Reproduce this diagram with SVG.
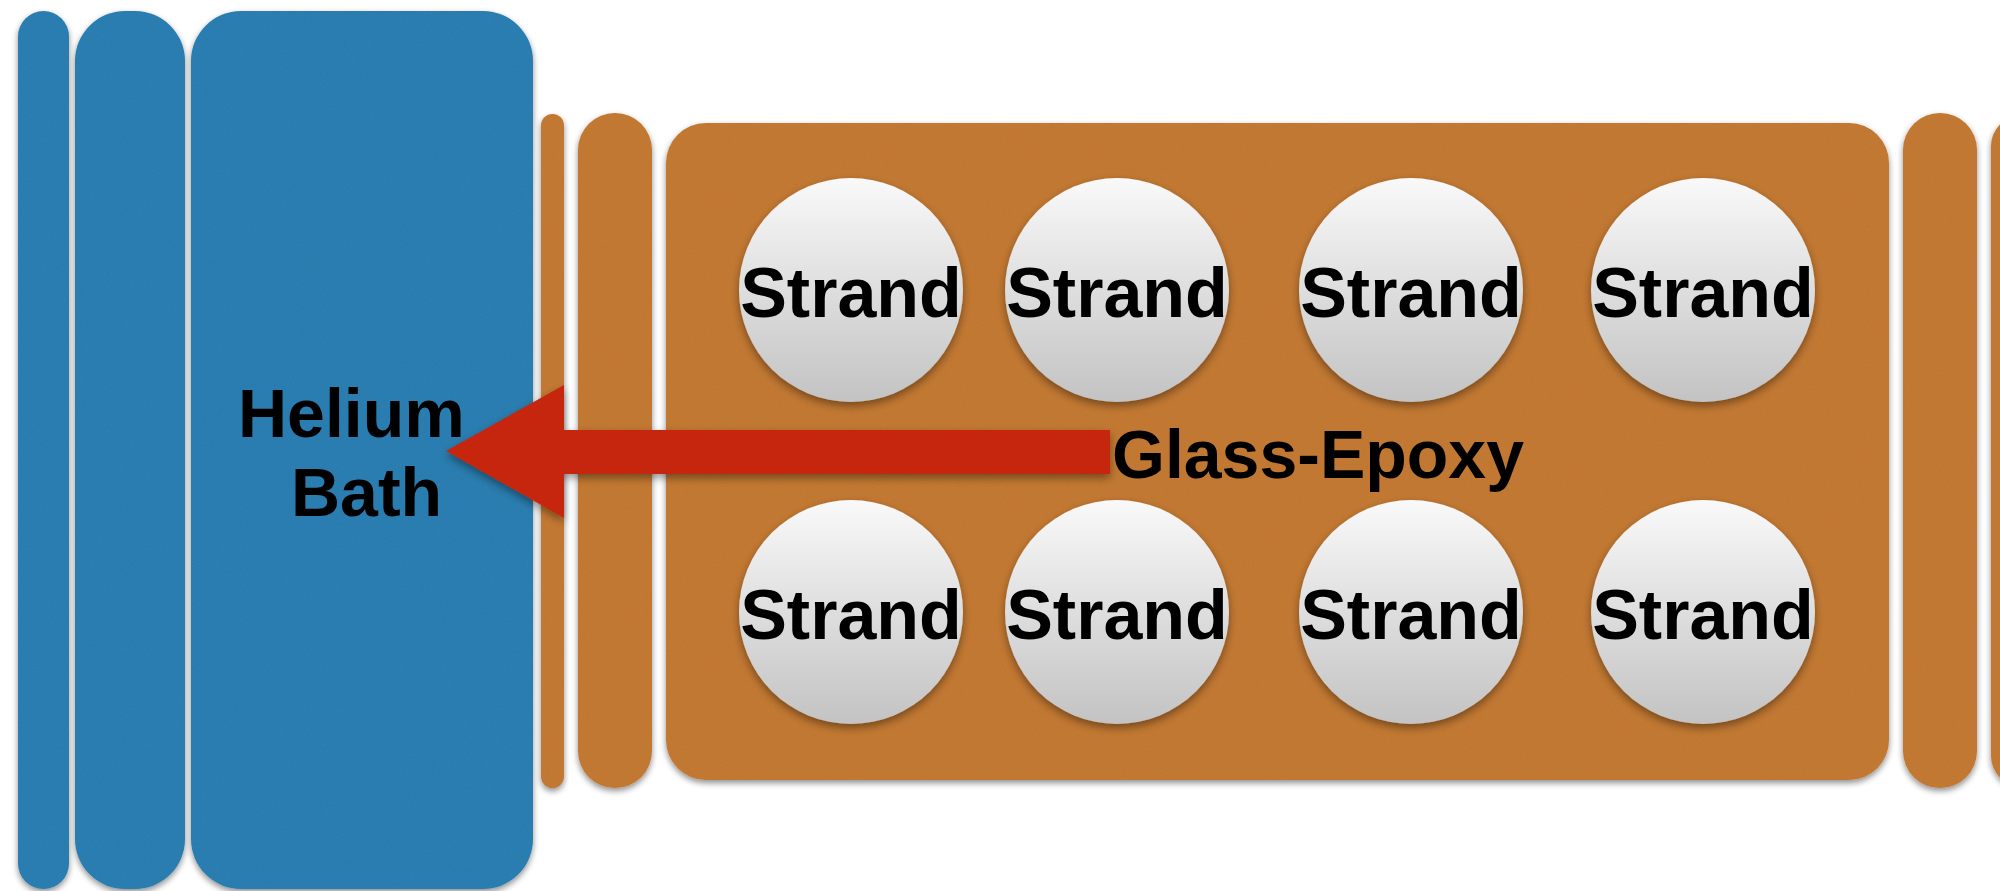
<svg xmlns="http://www.w3.org/2000/svg" width="2000" height="891" viewBox="0 0 2000 891">
  <defs>
    <style>
      .blue { fill: #2e7fb2; }
      .orange { fill: #c47a36; }
      .label { font-family: "Liberation Sans", Arial, sans-serif; font-weight: bold; font-size: 68px; fill: #000; }
      .strand { font-family: "Liberation Sans", Arial, sans-serif; font-weight: bold; font-size: 70px; fill: #000; text-anchor: middle; }
      .bead { fill: url(#beadGrad); }
      .arrow { fill: #c5260a; }
    </style>
    <linearGradient id="beadGrad" x1="0" y1="0" x2="0" y2="1">
      <stop offset="0" stop-color="#f9f9f9"/>
      <stop offset="1" stop-color="#c3c3c3"/>
    </linearGradient>
    <!-- felt-like panel: soft drop shadow plus a faint grain -->
    <filter id="felt" x="-20%" y="-5%" width="140%" height="110%">
      <feGaussianBlur in="SourceAlpha" stdDeviation="3" result="blur"/>
      <feOffset in="blur" dx="0" dy="3" result="off"/>
      <feComponentTransfer in="off" result="shadow">
        <feFuncA type="linear" slope="0.45"/>
      </feComponentTransfer>
      <feTurbulence type="fractalNoise" baseFrequency="0.7" numOctaves="2" seed="4" result="noise"/>
      <feColorMatrix in="noise" type="matrix" values="0 0 0 0 0  0 0 0 0 0  0 0 0 0 0  0.12 0 0 0 -0.03" result="grain"/>
      <feComposite in="grain" in2="SourceAlpha" operator="in" result="grainClip"/>
      <feMerge>
        <feMergeNode in="shadow"/>
        <feMergeNode in="SourceGraphic"/>
        <feMergeNode in="grainClip"/>
      </feMerge>
    </filter>
    <filter id="soft" x="-10%" y="-10%" width="120%" height="125%">
      <feDropShadow dx="0" dy="4" stdDeviation="4" flood-color="#000" flood-opacity="0.4"/>
    </filter>
  </defs>

  <rect width="2000" height="891" fill="#ffffff"/>

  <!-- helium bath layers -->
  <g id="bath-wall-outer" filter="url(#felt)">
    <rect class="blue" x="18" y="11" width="51" height="878" rx="25.5" ry="25.5"/>
  </g>
  <g id="bath-wall-inner" filter="url(#felt)">
    <rect class="blue" x="75" y="11" width="110" height="878" rx="50" ry="50"/>
  </g>
  <g id="helium-bath" filter="url(#felt)">
    <rect class="blue" x="191" y="11" width="342" height="878" rx="50" ry="50"/>
  </g>

  <!-- insulation layers -->
  <g id="insulation-thin" filter="url(#felt)">
    <rect class="orange" x="541" y="114" width="23" height="674" rx="11.5" ry="11.5"/>
  </g>
  <g id="insulation-left" filter="url(#felt)">
    <rect class="orange" x="578" y="113" width="74" height="675" rx="37" ry="37"/>
  </g>
  <g id="glass-epoxy" filter="url(#felt)">
    <rect class="orange" x="666" y="123" width="1223" height="657" rx="40" ry="40"/>
  </g>
  <g id="insulation-right" filter="url(#felt)">
    <rect class="orange" x="1903" y="113" width="74" height="675" rx="37" ry="37"/>
  </g>
  <g id="insulation-edge" filter="url(#felt)">
    <rect class="orange" x="1991" y="116" width="60" height="670" rx="30" ry="30"/>
  </g>

  <!-- strands, top row -->
  <g id="strand-1" filter="url(#soft)">
    <circle class="bead" cx="851" cy="290" r="112"/>
    <text class="strand" x="851" y="317">Strand</text>
  </g>
  <g id="strand-2" filter="url(#soft)">
    <circle class="bead" cx="1117" cy="290" r="112"/>
    <text class="strand" x="1117" y="317">Strand</text>
  </g>
  <g id="strand-3" filter="url(#soft)">
    <circle class="bead" cx="1411" cy="290" r="112"/>
    <text class="strand" x="1411" y="317">Strand</text>
  </g>
  <g id="strand-4" filter="url(#soft)">
    <circle class="bead" cx="1703" cy="290" r="112"/>
    <text class="strand" x="1703" y="317">Strand</text>
  </g>

  <!-- strands, bottom row -->
  <g id="strand-5" filter="url(#soft)">
    <circle class="bead" cx="851" cy="612" r="112"/>
    <text class="strand" x="851" y="639">Strand</text>
  </g>
  <g id="strand-6" filter="url(#soft)">
    <circle class="bead" cx="1117" cy="612" r="112"/>
    <text class="strand" x="1117" y="639">Strand</text>
  </g>
  <g id="strand-7" filter="url(#soft)">
    <circle class="bead" cx="1411" cy="612" r="112"/>
    <text class="strand" x="1411" y="639">Strand</text>
  </g>
  <g id="strand-8" filter="url(#soft)">
    <circle class="bead" cx="1703" cy="612" r="112"/>
    <text class="strand" x="1703" y="639">Strand</text>
  </g>

  <!-- heat flow -->
  <g id="connectors">
    <polygon class="arrow" filter="url(#soft)" points="446,451 564,385 564,430 1110,430 1110,474 564,474 564,518"/>
  </g>

  <!-- labels -->
  <g id="labels">
    <text class="label" x="238" y="437">Helium</text>
    <text class="label" x="291" y="516">Bath</text>
    <text class="label" x="1112" y="478">Glass-Epoxy</text>
  </g>
</svg>
